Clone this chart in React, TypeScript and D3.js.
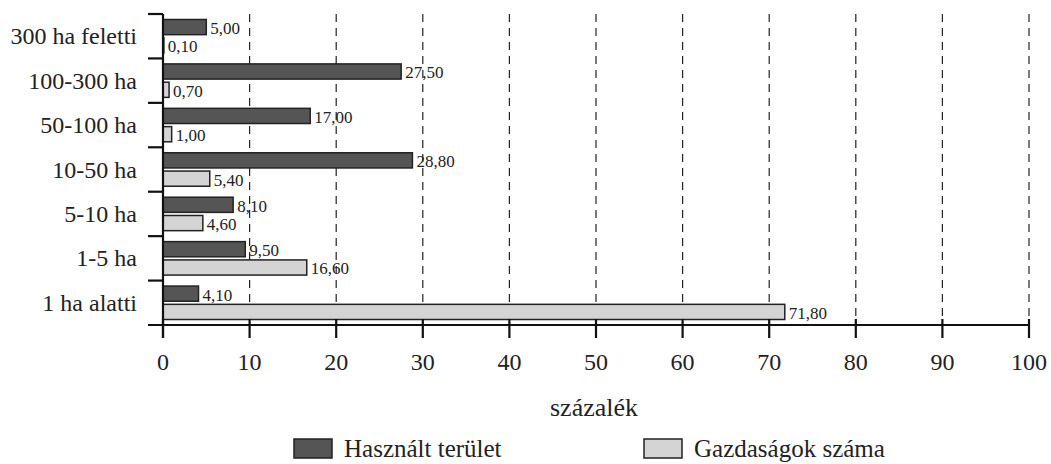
import React from 'react';
import * as d3 from 'd3';

const categories = ['300 ha feletti', '100-300 ha', '50-100 ha', '10-50 ha', '5-10 ha', '1-5 ha', '1 ha alatti'];
const seriesNames = ['Használt terület', 'Gazdaságok száma'];
const usedArea = [5.0, 27.5, 17.0, 28.8, 8.1, 9.5, 4.1];
const farmCount = [0.1, 0.7, 1.0, 5.4, 4.6, 16.6, 71.8];
const xTicks = [0, 10, 20, 30, 40, 50, 60, 70, 80, 90, 100];
const xTitle = 'százalék';

const colors = ['#555555', '#d4d4d4'];
const font = '"Liberation Serif", "Times New Roman", serif';

const W = 1051;
const H = 464;

export default function App() {
  const x = d3.scaleLinear().domain([0, 100]).range([163, 1029]);
  const y = d3.scaleBand<string>().domain(categories).range([14, 325]);
  const inner = d3.scaleBand<string>().domain(seriesNames).range([0, y.bandwidth()]).paddingInner(0.17).paddingOuter(0.3);
  const fmt = (v: number) => v.toFixed(2).replace('.', ',');
  const series = [usedArea, farmCount];
  const axisY = 325;

  // band boundaries for the left ticks
  const bounds = categories.map((c) => y(c) as number);

  return (
    <svg width={W} height={H} style={{ position: 'absolute', left: 0, top: 0, background: '#fff' }} fontFamily={font}>
      {/* dashed grid */}
      {xTicks.filter((t) => t > 0).map((t) => (
        <line key={'g' + t} x1={x(t)} x2={x(t)} y1={14} y2={axisY} stroke="#222" strokeWidth={1.2} strokeDasharray="8,6" />
      ))}

      {/* bars */}
      {categories.map((c, i) => (
        <g key={c} transform={`translate(0,${y(c)})`}>
          {series.map((s, k) => {
            const by = inner(seriesNames[k]) as number;
            const bh = inner.bandwidth();
            return (
              <g key={k}>
                <rect x={x(0)} y={by} width={x(s[i]) - x(0)} height={bh} fill={colors[k]} stroke="#222" strokeWidth={1.5} />
                <text x={x(s[i]) + 4} y={by + bh / 2 + 7} fontSize={17} fill="#222">{fmt(s[i])}</text>
              </g>
            );
          })}
        </g>
      ))}

      {/* y axis */}
      <line x1={x(0)} x2={x(0)} y1={14} y2={axisY + 13} stroke="#111" strokeWidth={2.2} />
      {bounds.map((b, i) => (
        <line key={'yt' + i} x1={148} x2={x(0)} y1={b} y2={b} stroke="#111" strokeWidth={2.2} />
      ))}
      {categories.map((c) => (
        <text key={'yl' + c} x={137} y={(y(c) as number) + y.bandwidth() / 2 + 8} textAnchor="end" fontSize={24} fill="#222">{c}</text>
      ))}

      {/* x axis */}
      <line x1={148} x2={x(100)} y1={axisY} y2={axisY} stroke="#111" strokeWidth={2.2} />
      {xTicks.map((t) => (
        <g key={'xt' + t}>
          <line x1={x(t)} x2={x(t)} y1={axisY - 6} y2={axisY + 13} stroke="#111" strokeWidth={2.2} />
          <text x={x(t)} y={370} textAnchor="middle" fontSize={24} fill="#222">{t}</text>
        </g>
      ))}
      <text x={594} y={416} textAnchor="middle" fontSize={26} fill="#222">{xTitle}</text>

      {/* legend */}
      {seriesNames.map((n, k) => {
        const lx = k === 0 ? 294 : 644;
        return (
          <g key={n}>
            <rect x={lx} y={439} width={38} height={19} fill={colors[k]} stroke="#222" strokeWidth={1.5} />
            <text x={lx + 50} y={457} fontSize={25} fill="#222">{n}</text>
          </g>
        );
      })}
    </svg>
  );
}
